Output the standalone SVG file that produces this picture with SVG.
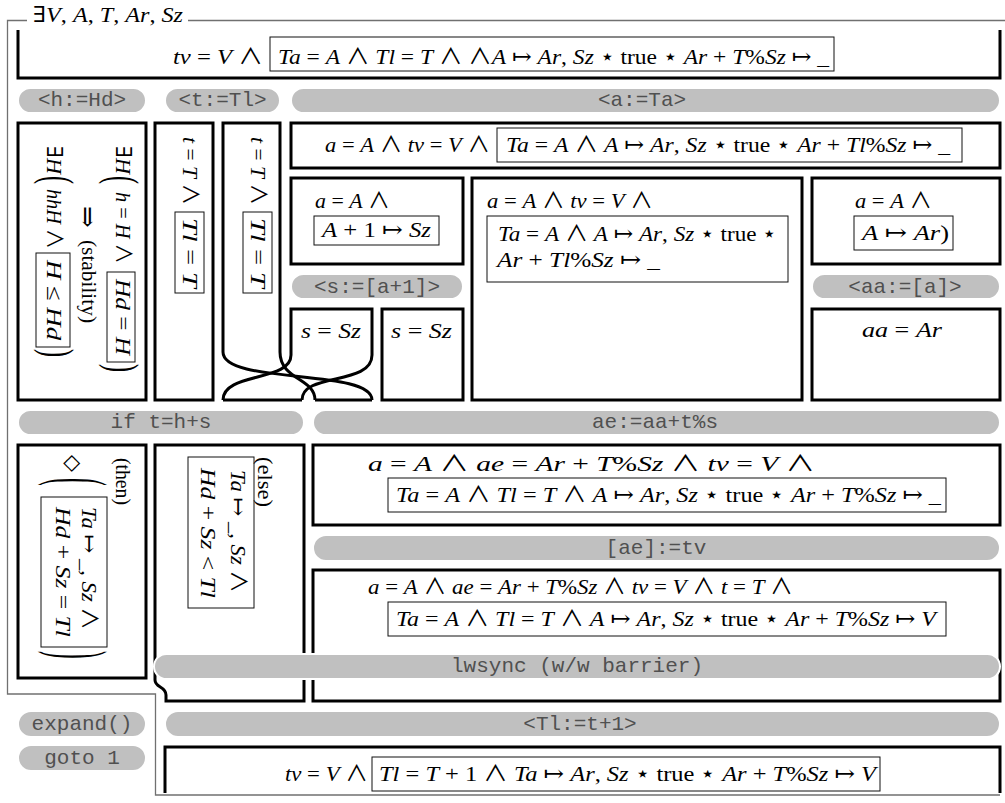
<svg xmlns="http://www.w3.org/2000/svg" width="1005" height="803" viewBox="0 0 1005 803">
<defs>
<style>
.frame{fill:none;stroke:#707070;stroke-width:1.3}
.box{fill:none;stroke:#000;stroke-width:3}
.ibox{fill:none;stroke:#111;stroke-width:1}
.pill{fill:#c0c0c0;stroke:#fff;stroke-width:2}
.code{font-family:"Liberation Mono","DejaVu Sans Mono",monospace;font-size:21px;fill:#505050;text-anchor:middle}
.m{font-family:"Liberation Serif","Noto Sans CJK JP","DejaVu Serif",serif;font-size:22px;fill:#000}
.i{font-style:italic}
.sym{font-family:"DejaVu Serif",serif;font-style:normal}
.big{font-size:44px}
.huge{font-size:77px}
</style>
</defs>
<rect width="1005" height="803" fill="#fff"/>

<!-- outer existential frame -->
<g id="frame">
<path class="frame" d="M27,20.5 H7.5 V694 H155.5 V795 H1000"/>
<path class="frame" d="M188,20.5 H1005"/>
<text class="m" x="33" y="22" textLength="150" lengthAdjust="spacingAndGlyphs"><tspan class="sym">∃</tspan><tspan class="i">V</tspan>, <tspan class="i">A</tspan>, <tspan class="i">T</tspan>, <tspan class="i">Ar</tspan>, <tspan class="i">Sz</tspan></text>
</g>

<!-- precondition -->
<g id="pre">
<path class="box" d="M18,30 V78 H1000 V30"/>
<text class="m" x="173" y="64" textLength="90" lengthAdjust="spacingAndGlyphs"><tspan class="i">tv</tspan> = <tspan class="i">V</tspan> ∧</text>
<rect class="ibox" x="270" y="37" width="564" height="34"/>
<text class="m" x="278" y="64" textLength="551" lengthAdjust="spacingAndGlyphs"><tspan class="i">Ta</tspan> = <tspan class="i">A</tspan> ∧ <tspan class="i">Tl</tspan> = <tspan class="i">T</tspan> ∧ ∧<tspan class="i">A</tspan> ↦ <tspan class="i">Ar</tspan>, <tspan class="i">Sz</tspan> ⋆ true ⋆ <tspan class="i">Ar</tspan> + <tspan class="i">T</tspan>%<tspan class="i">Sz</tspan> ↦ _</text>
</g>

<!-- commands -->
<g id="cmd-h"><rect class="pill" x="18" y="88" width="128" height="25" rx="12.5"/><text class="code" x="82" y="106">&lt;h:=Hd&gt;</text></g>
<g id="cmd-t"><rect class="pill" x="165" y="88" width="115" height="25" rx="12.5"/><text class="code" x="222.5" y="106">&lt;t:=Tl&gt;</text></g>
<g id="cmd-a"><rect class="pill" x="291" y="88" width="709" height="25" rx="12.5"/><text class="code" x="642" y="106">&lt;a:=Ta&gt;</text></g>

<!-- head thread -->
<g id="head">
<rect class="box" x="18" y="123" width="128" height="277"/>
<text class="m" transform="translate(116,146) rotate(90)"><tspan class="sym">∃</tspan><tspan class="i">H</tspan></text>
<text class="m big" transform="translate(108,176) rotate(90) scale(0.55,1)">(</text>
<text class="m" transform="translate(116,192) rotate(90)" textLength="72" lengthAdjust="spacingAndGlyphs"><tspan class="i">h</tspan> = <tspan class="i">H</tspan> ∧</text>
<rect class="ibox" x="107" y="272" width="28" height="90"/>
<text class="m" transform="translate(116,279) rotate(90)" textLength="76" lengthAdjust="spacingAndGlyphs"><tspan class="i">Hd</tspan> = <tspan class="i">H</tspan></text>
<text class="m big" transform="translate(108,364) rotate(90) scale(0.55,1)">)</text>
<text class="m sym" transform="translate(79,206) rotate(90)" style="font-size:26px">⇒</text>
<text class="m" transform="translate(82,240) rotate(90)" textLength="83" lengthAdjust="spacingAndGlyphs">(stability)</text>
<text class="m" transform="translate(47,146) rotate(90)"><tspan class="sym">∃</tspan><tspan class="i">H</tspan></text>
<text class="m big" transform="translate(43,176) rotate(90) scale(0.55,1)">(</text>
<text class="m" transform="translate(47,189) rotate(90)" textLength="60" lengthAdjust="spacingAndGlyphs"><tspan class="i">hhH</tspan> ∧</text>
<rect class="ibox" x="36" y="253" width="34" height="94"/>
<text class="m" transform="translate(47,260) rotate(90)" textLength="80" lengthAdjust="spacingAndGlyphs"><tspan class="i">H</tspan> ≤ <tspan class="i">Hd</tspan></text>
<text class="m big" transform="translate(43,349) rotate(90) scale(0.55,1)">)</text>
</g>

<!-- tail thread -->
<g id="tail1">
<rect class="box" x="155" y="123" width="58" height="277"/>
<text class="m" transform="translate(183,137) rotate(90)" textLength="68" lengthAdjust="spacingAndGlyphs"><tspan class="i">t</tspan> = <tspan class="i">T</tspan> ∧</text>
<rect class="ibox" x="175" y="212" width="29" height="81"/>
<text class="m" transform="translate(183,218) rotate(90)" textLength="70" lengthAdjust="spacingAndGlyphs"><tspan class="i">Tl</tspan> = <tspan class="i">T</tspan></text>
</g>
<g id="tail2">
<path class="box" d="M223,352 V123 H280 V352"/>
<text class="m" transform="translate(251,137) rotate(90)" textLength="68" lengthAdjust="spacingAndGlyphs"><tspan class="i">t</tspan> = <tspan class="i">T</tspan> ∧</text>
<rect class="ibox" x="243" y="212" width="29" height="81"/>
<text class="m" transform="translate(251,218) rotate(90)" textLength="70" lengthAdjust="spacingAndGlyphs"><tspan class="i">Tl</tspan> = <tspan class="i">T</tspan></text>
</g>

<!-- array thread -->
<g id="arr-top">
<rect class="box" x="291" y="123" width="709" height="45"/>
<text class="m" x="325" y="152" textLength="165" lengthAdjust="spacingAndGlyphs"><tspan class="i">a</tspan> = <tspan class="i">A</tspan> ∧ <tspan class="i">tv</tspan> = <tspan class="i">V</tspan> ∧</text>
<rect class="ibox" x="497" y="128" width="465" height="34"/>
<text class="m" x="506" y="152" textLength="444" lengthAdjust="spacingAndGlyphs"><tspan class="i">Ta</tspan> = <tspan class="i">A</tspan> ∧ <tspan class="i">A</tspan> ↦ <tspan class="i">Ar</tspan>, <tspan class="i">Sz</tspan> ⋆ true ⋆ <tspan class="i">Ar</tspan> + <tspan class="i">Tl</tspan>%<tspan class="i">Sz</tspan> ↦ _</text>
</g>
<g id="size-pre">
<rect class="box" x="291" y="178" width="172" height="86"/>
<text class="m" x="315" y="208" textLength="75" lengthAdjust="spacingAndGlyphs"><tspan class="i">a</tspan> = <tspan class="i">A</tspan> ∧</text>
<rect class="ibox" x="314" y="216" width="125" height="29"/>
<text class="m" x="322" y="237" textLength="109" lengthAdjust="spacingAndGlyphs"><tspan class="i">A</tspan> + 1 ↦ <tspan class="i">Sz</tspan></text>
</g>
<g id="cmd-s"><rect class="pill" x="291" y="274" width="172" height="25" rx="12.5"/><text class="code" x="377" y="293">&lt;s:=[a+1]&gt;</text></g>
<g id="size-post1">
<path class="box" d="M291,355 V309 H372 V355"/>
<text class="m" x="301" y="338" textLength="60" lengthAdjust="spacingAndGlyphs"><tspan class="i">s</tspan> = <tspan class="i">Sz</tspan></text>
</g>
<g id="size-post2">
<rect class="box" x="382" y="309" width="81" height="91"/>
<text class="m" x="391" y="338" textLength="61" lengthAdjust="spacingAndGlyphs"><tspan class="i">s</tspan> = <tspan class="i">Sz</tspan></text>
</g>
<g id="frame-mid">
<rect class="box" x="472" y="178" width="330" height="222"/>
<text class="m" x="487" y="208" textLength="166" lengthAdjust="spacingAndGlyphs"><tspan class="i">a</tspan> = <tspan class="i">A</tspan> ∧ <tspan class="i">tv</tspan> = <tspan class="i">V</tspan> ∧</text>
<rect class="ibox" x="487" y="216" width="301" height="66"/>
<text class="m" x="498" y="241" textLength="279" lengthAdjust="spacingAndGlyphs"><tspan class="i">Ta</tspan> = <tspan class="i">A</tspan> ∧ <tspan class="i">A</tspan> ↦ <tspan class="i">Ar</tspan>, <tspan class="i">Sz</tspan> ⋆ true ⋆</text>
<text class="m" x="497" y="267" textLength="163" lengthAdjust="spacingAndGlyphs"><tspan class="i">Ar</tspan> + <tspan class="i">Tl</tspan>%<tspan class="i">Sz</tspan> ↦ _</text>
</g>
<g id="addr-pre">
<rect class="box" x="812" y="178" width="188" height="86"/>
<text class="m" x="855" y="208" textLength="77" lengthAdjust="spacingAndGlyphs"><tspan class="i">a</tspan> = <tspan class="i">A</tspan> ∧</text>
<rect class="ibox" x="854" y="216" width="99" height="34"/>
<text class="m" x="862" y="240" textLength="87" lengthAdjust="spacingAndGlyphs"><tspan class="i">A</tspan> ↦ <tspan class="i">Ar</tspan>)</text>
</g>
<g id="cmd-aa"><rect class="pill" x="812" y="274" width="188" height="25" rx="12.5"/><text class="code" x="905" y="293">&lt;aa:=[a]&gt;</text></g>
<g id="addr-post">
<rect class="box" x="812" y="309" width="188" height="91"/>
<text class="m" x="862" y="337" textLength="80" lengthAdjust="spacingAndGlyphs"><tspan class="i">aa</tspan> = <tspan class="i">Ar</tspan></text>
</g>

<!-- braid where tail and size swap columns -->
<g id="connectors" class="box">
<path d="M223,352 C223,385 372,368 372,400"/>
<path d="M280,352 C280,380 315,378 315,400"/>
<path d="M291,355 C291,382 223,372 223,400"/>
<path d="M372,355 C372,386 302,372 302,400"/>
<path d="M223,400 H302 M315,400 H372"/>
</g>

<!-- second half -->
<g id="cmd-if"><rect class="pill" x="18" y="410" width="286" height="25" rx="12.5"/><text class="code" x="161" y="428">if t=h+s</text></g>
<g id="cmd-ae"><rect class="pill" x="313" y="410" width="687" height="25" rx="12.5"/><text class="code" x="655" y="428">ae:=aa+t%s</text></g>

<g id="then">
<rect class="box" x="18" y="445" width="128" height="233"/>
<text class="m" transform="translate(116,458) rotate(90)" textLength="47" lengthAdjust="spacingAndGlyphs">(then)</text>
<text class="m sym" transform="translate(66,455) rotate(90)" style="font-size:22px">◇</text>
<text class="m huge" transform="translate(54,478) rotate(90) scale(0.3,1)">(</text>
<rect class="ibox" x="41" y="497" width="66" height="150"/>
<text class="m" transform="translate(82,507) rotate(90)" textLength="123" lengthAdjust="spacingAndGlyphs"><tspan class="i">Ta</tspan> ↦ _, <tspan class="i">Sz</tspan> ∧</text>
<text class="m" transform="translate(56,507) rotate(90)" textLength="130" lengthAdjust="spacingAndGlyphs"><tspan class="i">Hd</tspan> + <tspan class="i">Sz</tspan> = <tspan class="i">Tl</tspan></text>
<text class="m huge" transform="translate(54,651) rotate(90) scale(0.3,1)">)</text>
</g>

<g id="else">
<path class="box" d="M155,680 C155,688 166,686 166,695 V701 H304 V445 H155 Z"/>
<text class="m" transform="translate(258,457) rotate(90)" textLength="50" lengthAdjust="spacingAndGlyphs">(else)</text>
<rect class="ibox" x="188" y="457" width="66" height="151"/>
<text class="m" transform="translate(231,470) rotate(90)" textLength="123" lengthAdjust="spacingAndGlyphs"><tspan class="i">Ta</tspan> ↦ _, <tspan class="i">Sz</tspan> ∧</text>
<text class="m" transform="translate(201,468) rotate(90)" textLength="130" lengthAdjust="spacingAndGlyphs"><tspan class="i">Hd</tspan> + <tspan class="i">Sz</tspan> &lt; <tspan class="i">Tl</tspan></text>
</g>

<g id="ae-post">
<rect class="box" x="313" y="445" width="687" height="80"/>
<text class="m" x="368" y="471" textLength="447" lengthAdjust="spacingAndGlyphs"><tspan class="i">a</tspan> = <tspan class="i">A</tspan> ∧ <tspan class="i">ae</tspan> = <tspan class="i">Ar</tspan> + <tspan class="i">T</tspan>%<tspan class="i">Sz</tspan> ∧ <tspan class="i">tv</tspan> = <tspan class="i">V</tspan> ∧</text>
<rect class="ibox" x="388" y="478" width="558" height="34"/>
<text class="m" x="396" y="502" textLength="545" lengthAdjust="spacingAndGlyphs"><tspan class="i">Ta</tspan> = <tspan class="i">A</tspan> ∧ <tspan class="i">Tl</tspan> = <tspan class="i">T</tspan> ∧ <tspan class="i">A</tspan> ↦ <tspan class="i">Ar</tspan>, <tspan class="i">Sz</tspan> ⋆ true ⋆ <tspan class="i">Ar</tspan> + <tspan class="i">T</tspan>%<tspan class="i">Sz</tspan> ↦ _</text>
</g>
<g id="cmd-store"><rect class="pill" x="313" y="535" width="687" height="26" rx="13"/><text class="code" x="656" y="554">[ae]:=tv</text></g>
<g id="store-post">
<rect class="box" x="313" y="570" width="687" height="131"/>
<text class="m" x="368" y="594" textLength="425" lengthAdjust="spacingAndGlyphs"><tspan class="i">a</tspan> = <tspan class="i">A</tspan> ∧ <tspan class="i">ae</tspan> = <tspan class="i">Ar</tspan> + <tspan class="i">T</tspan>%<tspan class="i">Sz</tspan> ∧ <tspan class="i">tv</tspan> = <tspan class="i">V</tspan> ∧ <tspan class="i">t</tspan> = <tspan class="i">T</tspan> ∧</text>
<rect class="ibox" x="388" y="602" width="558" height="34"/>
<text class="m" x="396" y="626" textLength="540" lengthAdjust="spacingAndGlyphs"><tspan class="i">Ta</tspan> = <tspan class="i">A</tspan> ∧ <tspan class="i">Tl</tspan> = <tspan class="i">T</tspan> ∧ <tspan class="i">A</tspan> ↦ <tspan class="i">Ar</tspan>, <tspan class="i">Sz</tspan> ⋆ true ⋆ <tspan class="i">Ar</tspan> + <tspan class="i">T</tspan>%<tspan class="i">Sz</tspan> ↦ <tspan class="i">V</tspan></text>
</g>
<g id="cmd-lwsync"><rect class="pill" x="154" y="654" width="846" height="25" rx="12.5"/><text class="code" x="577" y="672">lwsync (w/w barrier)</text></g>

<g id="cmd-expand"><rect class="pill" x="18" y="711" width="128" height="26" rx="13"/><text class="code" x="82" y="730">expand()</text></g>
<g id="cmd-goto"><rect class="pill" x="18" y="745" width="128" height="26" rx="13"/><text class="code" x="82" y="764">goto 1</text></g>
<g id="cmd-tl"><rect class="pill" x="165" y="711" width="835" height="26" rx="13"/><text class="code" x="580" y="730">&lt;Tl:=t+1&gt;</text></g>

<g id="post">
<path class="box" d="M165,793 V747 H1000 V793"/>
<text class="m" x="285" y="781" textLength="83" lengthAdjust="spacingAndGlyphs"><tspan class="i">tv</tspan> = <tspan class="i">V</tspan> ∧</text>
<rect class="ibox" x="372" y="757" width="508" height="34"/>
<text class="m" x="379" y="781" textLength="497" lengthAdjust="spacingAndGlyphs"><tspan class="i">Tl</tspan> = <tspan class="i">T</tspan> + 1 ∧ <tspan class="i">Ta</tspan> ↦ <tspan class="i">Ar</tspan>, <tspan class="i">Sz</tspan> ⋆ true ⋆ <tspan class="i">Ar</tspan> + <tspan class="i">T</tspan>%<tspan class="i">Sz</tspan> ↦ <tspan class="i">V</tspan></text>
</g>
</svg>
